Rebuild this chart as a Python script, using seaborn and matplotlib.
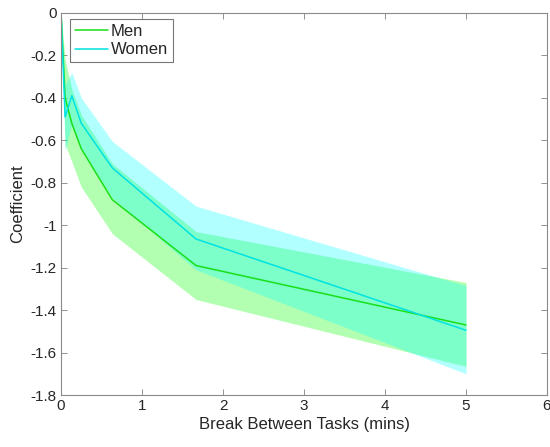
import pandas as pd
import numpy as np
import matplotlib.pyplot as plt
import seaborn as sns

# break length in minutes
break_mins = [0, 0.05, 0.133, 0.25, 0.633, 1.667, 5]

men_coef = [0, -0.40, -0.52, -0.64, -0.88, -1.19, -1.47]
men_upper = [0, -0.22, -0.36, -0.48, -0.71, -1.03, -1.27]
men_lower = [0, -0.62, -0.70, -0.82, -1.04, -1.35, -1.665]

women_coef = [0, -0.49, -0.39, -0.52, -0.73, -1.065, -1.495]
women_upper = [0, -0.34, -0.28, -0.40, -0.605, -0.91, -1.285]
women_lower = [0, -0.65, -0.52, -0.64, -0.87, -1.21, -1.70]

men_color = '#18E018'
women_color = '#00E2E2'

df = pd.DataFrame({
    'Break': break_mins * 2,
    'Coefficient': men_coef + women_coef,
    'Group': ['Men'] * len(break_mins) + ['Women'] * len(break_mins),
})

sns.set_style('white')
plt.rcParams['font.family'] = ['Liberation Sans', 'DejaVu Sans']

fig = plt.figure(figsize=(5.5, 4.47), dpi=100)
ax = fig.add_axes([0.111, 0.1163, 0.8835, 0.8547])

# confidence bands (men first, women drawn on top)
ax.fill_between(break_mins, men_lower, men_upper, color=(0, 1, 0), alpha=0.3, linewidth=0)
ax.fill_between(break_mins, women_lower, women_upper, color=(0, 1, 1), alpha=0.3, linewidth=0)

sns.lineplot(data=df, x='Break', y='Coefficient', hue='Group',
             palette={'Men': men_color, 'Women': women_color},
             linewidth=1.1, ax=ax, estimator=None, sort=False)

ax.set_xlim(0, 6)
ax.set_ylim(-1.8, 0)
ax.set_xticks(range(0, 7))
ax.set_yticks(np.round(np.arange(-1.8, 0.01, 0.2), 1))
ax.set_yticklabels(['-1.8', '-1.6', '-1.4', '-1.2', '-1', '-0.8', '-0.6', '-0.4', '-0.2', '0'])
ax.set_xlabel('Break Between Tasks (mins)', fontsize=12, color='#262626', labelpad=3)
ax.set_ylabel('Coefficient', fontsize=12, color='#262626', labelpad=4)

ax.tick_params(direction='in', length=4, width=0.6, color='#7f7f7f',
               labelsize=11, labelcolor='#262626', top=True, right=True,
               bottom=True, left=True, pad=3)
for side in ax.spines.values():
    side.set_color('#8a8a8a')
    side.set_linewidth(0.8)

leg = ax.legend(loc='upper left', bbox_to_anchor=(0.0185, 0.984), borderaxespad=0,
                fontsize=12, frameon=True, fancybox=False,
                handlelength=2.0, handletextpad=0.15,
                labelspacing=0.2, borderpad=0.3)
leg.get_frame().set_edgecolor('#555555')
leg.get_frame().set_linewidth(0.8)

fig.savefig('out.png', dpi=100)
